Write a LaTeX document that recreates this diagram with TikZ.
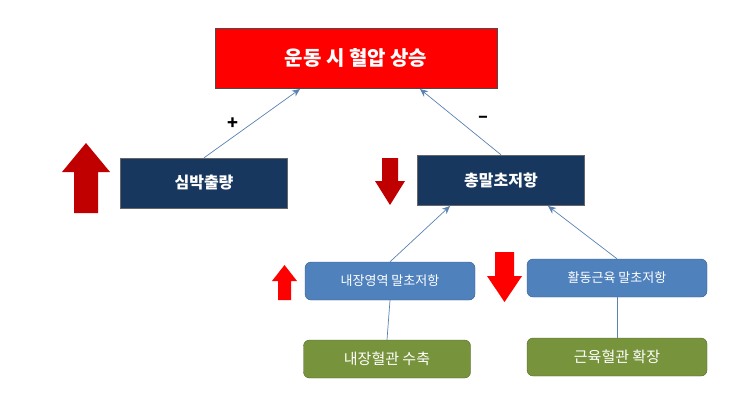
\documentclass[tikz,border=0pt]{standalone}
\usepackage{fontspec}
\setmainfont{Noto Sans CJK KR}
\usetikzlibrary{arrows.meta}
\begin{document}
\begin{tikzpicture}[x=1pt,y=-1pt,
 navy/.style={draw=black!60,fill=navy0,text=white,minimum width=167pt,minimum height=50pt,font=\bfseries\fontsize{16}{16}\selectfont},
 lb/.style={draw=blue0!70!black,fill=blue0,text=white,rounded corners=6pt,minimum height=38pt,font=\fontsize{13}{13}\selectfont},
 gr/.style={draw=green0!70!black,fill=green0,text=white,rounded corners=6pt,minimum height=38pt,font=\fontsize{15}{15}\selectfont},
 con/.style={draw=blue0!80!gray,line width=0.7pt},
 arr/.style={con,-{Stealth[length=8pt,width=7pt]}}]
\definecolor{navy0}{HTML}{17375E}
\definecolor{blue0}{HTML}{4F81BD}
\definecolor{green0}{HTML}{77933C}
\definecolor{dred}{HTML}{C00000}
\useasboundingbox (0,0) rectangle (743,405);
\node[draw=black!70,fill=red,text=white,minimum width=282pt,minimum height=60pt,font=\bfseries\fontsize{20}{20}\selectfont] (top) at (356,58) {운동 시 혈압 상승};
\node[navy] (hr) at (204,183) {심박출량};
\node[navy] (tpr) at (501,180) {총말초저항};
\node[lb,minimum width=170pt] (vis) at (390,281) {내장영역 말초저항};
\node[lb,minimum width=180pt] (mus) at (617,278) {활동근육 말초저항};
\node[gr,minimum width=167pt] (vc) at (387,359) {내장혈관 수축};
\node[gr,minimum width=180pt] (md) at (617,357) {근육혈관 확장};
\draw[arr] (hr.north) -- (300,89);
\draw[arr] (tpr.north) -- (420,89);
\draw[arr] (vis.north) -- (450,206);
\draw[arr] (mus.north) -- (548,206);
\draw[con] (vis.south) -- (vc.north);
\draw[con] (mus.south) -- (md.north);
\node[font=\bfseries\fontsize{18}{18}\selectfont] (plus) at (233,124) {+};
\node[font=\bfseries\fontsize{18}{18}\selectfont] (minus) at (483,119) {–};
% big arrows
\fill[dred] (86,143) -- (110,172) -- (98,172) -- (98,213) -- (74,213) -- (74,172) -- (62,172) -- cycle;
\fill[dred] (390,205) -- (405,181) -- (398,181) -- (398,158) -- (382,158) -- (382,181) -- (375,181) -- cycle;
\fill[red] (284.5,265) -- (297,281) -- (291,281) -- (291,300) -- (278,300) -- (278,281) -- (272,281) -- cycle;
\fill[red] (504.5,302) -- (522,276) -- (514,276) -- (514,252) -- (495,252) -- (495,276) -- (487,276) -- cycle;
\end{tikzpicture}
\end{document}
